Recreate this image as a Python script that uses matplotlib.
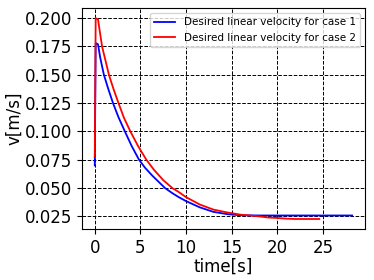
import matplotlib
matplotlib.use("Agg")
import matplotlib.pyplot as plt

# values
t_case1 = [0, 0.1, 0.35, 0.6, 1.0, 1.5, 2.0, 2.6, 3.3, 4.05, 4.85, 5.5, 6.3, 7.0,
           7.7, 8.5, 9.2, 10.0, 11.5, 13.0, 14.5, 16.0, 18.0, 20.0, 22.0, 24.0,
           26.0, 28.2]
v_case1 = [0.070, 0.178, 0.177, 0.165, 0.150, 0.137, 0.125, 0.1125, 0.100, 0.087,
           0.075, 0.068, 0.061, 0.0555, 0.050, 0.0455, 0.042, 0.0385, 0.033, 0.029,
           0.027, 0.026, 0.0258, 0.0258, 0.0258, 0.0258, 0.0258, 0.0258]

t_case2 = [0, 0.1, 0.35, 0.8, 1.55, 2.05, 2.6, 3.2, 3.9, 4.75, 5.65, 6.5, 7.5,
           8.5, 9.2, 10.0, 11.5, 13.0, 14.5, 16.0, 17.0, 18.0, 19.0, 20.0, 21.0,
           22.0, 24.6]
v_case2 = [0.078, 0.200, 0.199, 0.175, 0.150, 0.1375, 0.125, 0.112, 0.100, 0.087,
           0.075, 0.066, 0.057, 0.050, 0.0465, 0.042, 0.0355, 0.031, 0.0285,
           0.0265, 0.0258, 0.025, 0.024, 0.0236, 0.023, 0.0227, 0.0227]

fig = plt.figure(figsize=(3.74, 2.8), dpi=100)
ax = fig.add_axes([0.219, 0.182, 0.757, 0.789])

ax.plot(t_case1, v_case1, color="blue", lw=1.3, label="Desired linear velocity for case 1")
ax.plot(t_case2, v_case2, color="red", lw=1.3, label="Desired linear velocity for case 2")

ax.set_xticks([0, 5, 10, 15, 20, 25])
ax.set_yticks([0.025, 0.050, 0.075, 0.100, 0.125, 0.150, 0.175, 0.200])
ax.set_yticklabels(["0.025", "0.050", "0.075", "0.100", "0.125", "0.150", "0.175", "0.200"])
ax.tick_params(labelsize=12)
ax.set_xlabel("time[s]", fontsize=12, labelpad=1)
ax.set_ylabel("v[m/s]", fontsize=12, labelpad=1)
ax.grid(True, color="k", linestyle="--", lw=0.7)

ax.legend(loc="upper right", fontsize=7.5)

fig.savefig("out.png", dpi=100)
